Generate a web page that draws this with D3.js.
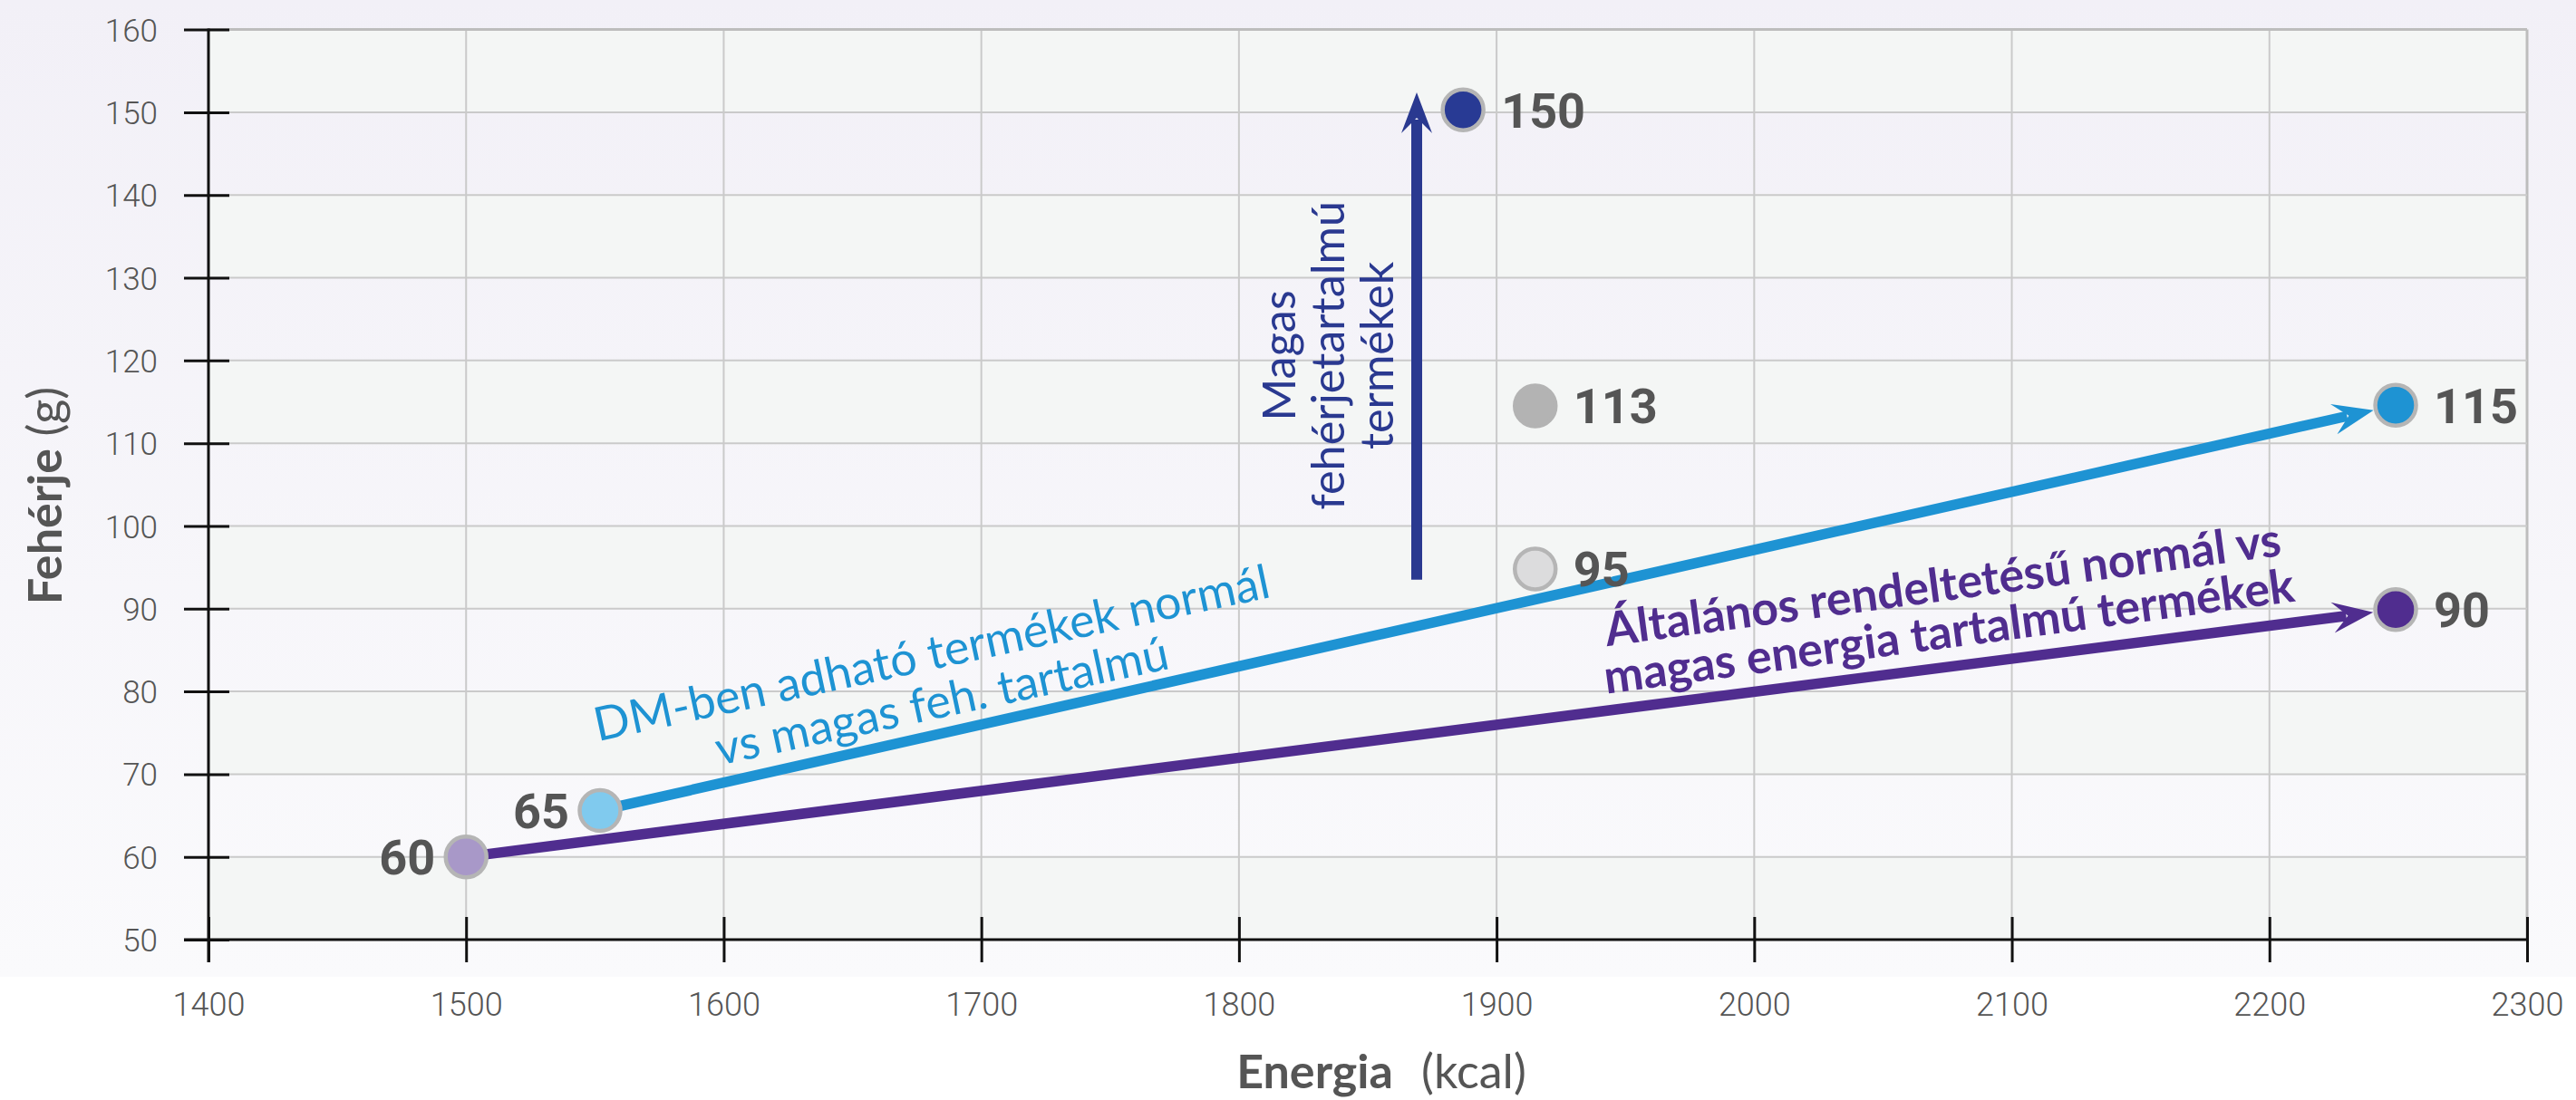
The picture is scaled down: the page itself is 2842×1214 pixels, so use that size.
<!DOCTYPE html>
<html><head><meta charset="utf-8">
<script src="https://cdn.jsdelivr.net/npm/d3@7"></script>
<style>html,body{margin:0;padding:0;background:#fff;overflow:hidden} svg{display:block}</style>
</head><body><svg id="c" width="2842" height="1214"></svg>
<script>
// ---- data ----
const xTicks = [1400,1500,1600,1700,1800,1900,2000,2100,2200,2300];
const yTicks = [50,60,70,80,90,100,110,120,130,140,150,160];
const energy = [1500, 1552, 1887, 1915, 1915, 2249, 2249];
const protein = [60, 65.6, 150.3, 114.5, 94.8, 114.6, 89.9];
const pointLabels = ["60","65","150","113","95","115","90"];
const arrowFrom = [1, 0];
const arrowTo = [5, 6];
const vArrowEnergy = [1869, 1869];
const vArrowProtein = [93.5, 152.4];
const xTitle = ["Energia", "(kcal)"];
const yTitle = ["Fehérje", "(g)"];
const noteDM = ["DM-ben adható termékek normál", "vs magas feh. tartalmú"];
const noteGen = ["Általános rendeltetésű normál vs", "magas energia tartalmú termékek"];
const noteHigh = ["Magas", "fehérjetartalmú", "termékek"];
const noteDMAt = [1682, 82.7];
const noteGenAt = [2074, 90.95];
const noteHighAt = [1822, 120.6];

// ---- styles ----
const pointFill = ["#a898c8","#80caee","#283a94","#b3b3b3","#dcdcdd","#1e93d3","#502d8f"];
const pointStroke = ["#b5b5b5","#b5b5b5","#b5b5b5","#b3b3b3","#b5b5b5","#b5b5b5","#b5b5b5"];
const arrowColor = ["#1e93d3","#502d8f"];
const vArrowColor = "#2a3990";

const W = 2842, H = 1214;
const svg = d3.select("#c");
const x = d3.scaleLinear().domain([1400,2300]).range([230,2788]);
const y = d3.scaleLinear().domain([50,160]).range([1037,32.6]);

// background
const defs = svg.append("defs");
const lg = defs.append("linearGradient").attr("id","bg").attr("x1",0).attr("y1",0).attr("x2",0).attr("y2",1);
lg.append("stop").attr("offset","0%").attr("stop-color","#f2f0f7");
lg.append("stop").attr("offset","100%").attr("stop-color","#fafafc");
svg.append("rect").attr("width",W).attr("height",H).attr("fill","#ffffff");
svg.append("rect").attr("width",W).attr("height",1078).attr("fill","url(#bg)");

// bands
svg.append("g").selectAll("rect").data(d3.pairs(yTicks).filter((d,i)=>i%2===0)).join("rect")
  .attr("x", x(1400)).attr("width", x(2300)-x(1400))
  .attr("y", d=>y(d[1])).attr("height", d=>y(d[0])-y(d[1]))
  .attr("fill","#f4f6f5");

// grid
const grid = svg.append("g");
grid.selectAll("line.v").data(xTicks.slice(1)).join("line").attr("class","v")
  .attr("x1",d=>x(d)).attr("x2",d=>x(d)).attr("y1",y(160)).attr("y2",y(50))
  .attr("stroke",d=>d===2300?"#bdbdbd":"#cacaca").attr("stroke-width",d=>d===2300?3:2);
grid.selectAll("line.h").data(yTicks.slice(1)).join("line").attr("class","h")
  .attr("y1",d=>y(d)).attr("y2",d=>y(d)).attr("x1",x(1400)).attr("x2",x(2300))
  .attr("stroke",d=>d===160?"#bdbdbd":"#cacaca").attr("stroke-width",d=>d===160?3:2);

// axes
const tickFont = "Roboto, 'Open Sans', sans-serif";
const gx = svg.append("g").attr("transform",`translate(0,${y(50)})`)
  .call(d3.axisBottom(x).tickValues(xTicks).tickSize(25).tickSizeOuter(0).tickFormat(d3.format("d")));
gx.select(".domain").remove();
gx.selectAll(".tick line").attr("y1",-25).attr("y2",25).attr("stroke","#111").attr("stroke-width",3);
gx.selectAll(".tick text").attr("y",84).attr("dy",null)
  .attr("font-family",tickFont).attr("font-weight",300).attr("font-size",36).attr("fill","#555");

const gy = svg.append("g").attr("transform",`translate(${x(1400)},0)`)
  .call(d3.axisLeft(y).tickValues(yTicks).tickSize(25).tickSizeOuter(0).tickFormat(d3.format("d")));
gy.select(".domain").remove();
gy.selectAll(".tick line").attr("x1",-27).attr("x2",23).attr("stroke","#111").attr("stroke-width",3);
gy.selectAll(".tick text").attr("x",-56).attr("dy","0.36em")
  .attr("font-family",tickFont).attr("font-weight",300).attr("font-size",35).attr("fill","#555");

svg.append("line").attr("x1",x(1400)-27).attr("x2",x(2300)+2).attr("y1",y(50)).attr("y2",y(50))
  .attr("stroke","#111").attr("stroke-width",3);
svg.append("line").attr("x1",x(1400)).attr("x2",x(1400)).attr("y1",y(160)-1).attr("y2",y(50)+25)
  .attr("stroke","#111").attr("stroke-width",3);

// arrows
function arrow(p0, p1, color, w, off0, off1){
  const dx = p1[0]-p0[0], dy = p1[1]-p0[1], L = Math.hypot(dx,dy);
  const u = [dx/L, dy/L], n = [-u[1], u[0]];
  const s = [p0[0]+u[0]*off0, p0[1]+u[1]*off0];
  const t = [p1[0]-u[0]*off1, p1[1]-u[1]*off1];
  const headL = 45, headW = 17, notch = 28;
  const e = [t[0]-u[0]*(notch+2), t[1]-u[1]*(notch+2)];
  svg.append("line").attr("x1",s[0]).attr("y1",s[1]).attr("x2",e[0]).attr("y2",e[1])
    .attr("stroke",color).attr("stroke-width",w);
  const pts = [t,
    [t[0]-u[0]*headL+n[0]*headW, t[1]-u[1]*headL+n[1]*headW],
    [t[0]-u[0]*notch, t[1]-u[1]*notch],
    [t[0]-u[0]*headL-n[0]*headW, t[1]-u[1]*headL-n[1]*headW]];
  svg.append("path").attr("d", d3.line()(pts)+"Z").attr("fill",color);
}
arrowFrom.forEach((f,i)=>{
  const t = arrowTo[i];
  arrow([x(energy[f]),y(protein[f])],[x(energy[t]),y(protein[t])],arrowColor[i],11.5,22,25);
});
arrow([x(vArrowEnergy[0]),y(vArrowProtein[0])],[x(vArrowEnergy[1]),y(vArrowProtein[1])],vArrowColor,12,0,0);

// points
const pts = energy.map((e,i)=>({e, p:protein[i], lab:pointLabels[i], i}));
svg.append("g").selectAll("circle").data(pts).join("circle")
  .attr("cx",d=>x(d.e)).attr("cy",d=>y(d.p)).attr("r",22.5)
  .attr("fill",d=>pointFill[d.i]).attr("stroke",d=>pointStroke[d.i]).attr("stroke-width",4.5);
svg.append("g").selectAll("text").data(pts).join("text")
  .attr("x",d=> d.e<1600 ? x(d.e)-34 : x(d.e)+42)
  .attr("y",d=>y(d.p)).attr("dy","0.36em")
  .attr("text-anchor",d=> d.e<1600 ? "end":"start")
  .attr("font-family",tickFont).attr("font-weight",700).attr("font-size",54).attr("fill","#555")
  .text(d=>d.lab);

// annotation blocks
const noteFont = "Lato, 'Open Sans', sans-serif";
function note(lines, at, angle, color, weight, refLine, target, spacing){
  const g = svg.append("g").attr("transform",`translate(${x(at[0])},${y(at[1])}) rotate(${angle})`);
  const ts = g.selectAll("text").data(lines).join("text")
    .attr("x",0).attr("y",(d,i)=>i*spacing).attr("text-anchor","middle")
    .attr("font-family",noteFont).attr("font-weight",weight).attr("font-size",50).attr("fill",color)
    .text(d=>d);
  const len = ts.nodes()[refLine].getComputedTextLength();
  const fs = 50*target/len;
  ts.attr("font-size",fs);
}
note(noteDM, noteDMAt, -12.1, "#1e93d3", 400, 0, 761, 54);
note(noteGen, noteGenAt, -7.65, "#502d8f", 700, 0, 752, 52);
note(noteHigh, noteHighAt, -90, "#2a3990", 400, 1, 341, 54);

// axis titles
const yt = svg.append("text").attr("transform","translate(68,547) rotate(-90)").attr("text-anchor","middle")
  .attr("font-family",noteFont).attr("font-size",52).attr("fill","#555");
yt.append("tspan").attr("font-weight",700).text(yTitle[0]);
yt.append("tspan").attr("font-weight",400).text(" "+yTitle[1]);
const xt = svg.append("text").attr("x",1524).attr("y",1201).attr("text-anchor","middle")
  .attr("font-family",noteFont).attr("font-size",52).attr("fill","#555");
xt.append("tspan").attr("font-weight",700).text(xTitle[0]);
xt.append("tspan").attr("font-weight",400).attr("dx",18).text(" "+xTitle[1]);
</script></body></html>
